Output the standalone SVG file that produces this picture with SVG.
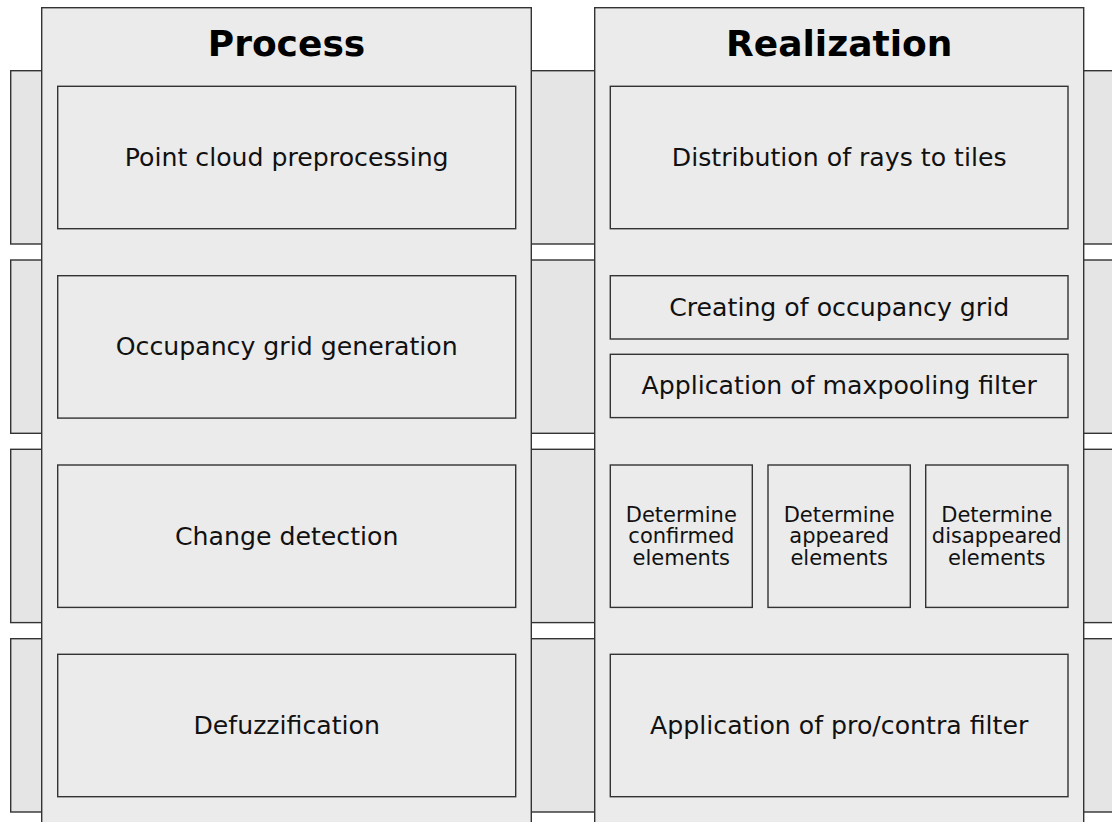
<svg xmlns="http://www.w3.org/2000/svg" width="1112" height="822" viewBox="0 0 1112 822">
  <style>
    .band { fill: #e5e5e5; stroke: #333; stroke-width: 1.4; }
    .lane { fill: #ebebeb; stroke: #333; stroke-width: 1.4; }
    .box { fill: #ebebeb; stroke: #333; stroke-width: 1.4; }
    .title { font-family: "DejaVu Sans", "Liberation Sans", sans-serif; font-weight: bold; font-size: 36px; fill: #000; text-anchor: middle; }
    .label { font-family: "DejaVu Sans", "Liberation Sans", sans-serif; font-size: 25.2px; fill: #111; text-anchor: middle; }
    .small { font-family: "DejaVu Sans", "Liberation Sans", sans-serif; font-size: 21px; fill: #111; text-anchor: middle; }
  </style>
  <rect x="0" y="0" width="1112" height="822" fill="#fff"/>

  <!-- horizontal stage bands behind the lanes -->
  <g id="bands">
    <rect class="band" x="10.7" y="70.7" width="1120" height="173.3"/>
    <rect class="band" x="10.7" y="260" width="1120" height="173.3"/>
    <rect class="band" x="10.7" y="449.3" width="1120" height="173.3"/>
    <rect class="band" x="10.7" y="638.7" width="1120" height="173.3"/>
  </g>

  <!-- Process lane -->
  <g id="lane-process">
    <rect class="lane" x="41.7" y="7.7" width="489.6" height="830"/>
    <text class="title" x="286.5" y="55.7">Process</text>
  </g>
  <g id="node-preprocessing">
    <rect class="box" x="57.7" y="86.3" width="458" height="142.4"/>
    <text class="label" x="286.7" y="166">Point cloud preprocessing</text>
  </g>
  <g id="node-grid-generation">
    <rect class="box" x="57.7" y="275.7" width="458" height="142.4"/>
    <text class="label" x="286.7" y="355.3">Occupancy grid generation</text>
  </g>
  <g id="node-change-detection">
    <rect class="box" x="57.7" y="465" width="458" height="142.4"/>
    <text class="label" x="286.7" y="544.6">Change detection</text>
  </g>
  <g id="node-defuzzification">
    <rect class="box" x="57.7" y="654.3" width="458" height="142.4"/>
    <text class="label" x="286.7" y="734">Defuzzification</text>
  </g>

  <!-- Realization lane -->
  <g id="lane-realization">
    <rect class="lane" x="594.7" y="7.7" width="489" height="830"/>
    <text class="title" x="839.2" y="55.7">Realization</text>
  </g>
  <g id="node-ray-distribution">
    <rect class="box" x="610.3" y="86.3" width="457.7" height="142.4"/>
    <text class="label" x="839.2" y="166">Distribution of rays to tiles</text>
  </g>
  <g id="node-creating-grid">
    <rect class="box" x="610.3" y="275.7" width="457.7" height="63.3"/>
    <text class="label" x="839.2" y="315.7">Creating of occupancy grid</text>
  </g>
  <g id="node-maxpooling">
    <rect class="box" x="610.3" y="354.3" width="457.7" height="63.3"/>
    <text class="label" x="839.2" y="394.3">Application of maxpooling filter</text>
  </g>
  <g id="node-confirmed">
    <rect class="box" x="610.3" y="465" width="142" height="142.4"/>
    <text class="small" x="681.3" y="521.7">Determine<tspan x="681.3" dy="21.7">confirmed</tspan><tspan x="681.3" dy="21.7">elements</tspan></text>
  </g>
  <g id="node-appeared">
    <rect class="box" x="768" y="465" width="142.3" height="142.4"/>
    <text class="small" x="839.2" y="521.7">Determine<tspan x="839.2" dy="21.7">appeared</tspan><tspan x="839.2" dy="21.7">elements</tspan></text>
  </g>
  <g id="node-disappeared">
    <rect class="box" x="925.7" y="465" width="142.3" height="142.4"/>
    <text class="small" x="996.8" y="521.7">Determine<tspan x="996.8" dy="21.7">disappeared</tspan><tspan x="996.8" dy="21.7">elements</tspan></text>
  </g>
  <g id="node-procontra">
    <rect class="box" x="610.3" y="654.3" width="457.7" height="142.4"/>
    <text class="label" x="839.2" y="734">Application of pro/contra filter</text>
  </g>

  <!-- no connectors between the nodes -->
  <g id="connectors"/>
</svg>
